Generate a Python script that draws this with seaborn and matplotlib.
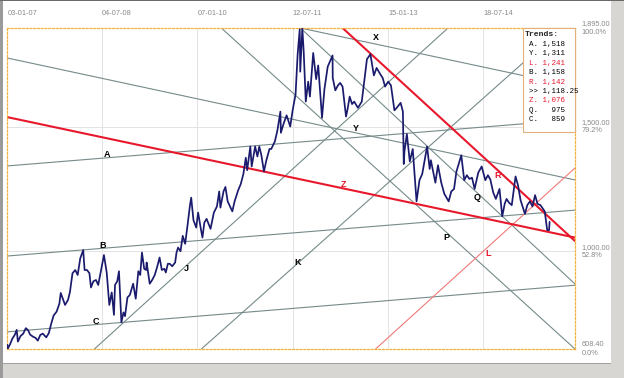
import matplotlib
matplotlib.use("Agg")
import matplotlib.pyplot as plt
import matplotlib.dates as mdates
from matplotlib.patches import Rectangle
import seaborn as sns
import pandas as pd

# price series
price_dates = [
    "2007-01-03", "2007-01-05", "2007-01-19", "2007-02-01", "2007-02-15", "2007-02-26",
    "2007-03-05", "2007-03-20", "2007-04-05", "2007-04-20", "2007-05-03", "2007-05-15",
    "2007-05-31", "2007-06-15", "2007-06-28", "2007-07-13", "2007-07-27", "2007-08-16",
    "2007-08-31", "2007-09-14", "2007-09-28", "2007-10-15", "2007-10-31", "2007-11-08",
    "2007-11-20", "2007-12-03", "2007-12-20", "2007-12-31",
    "2008-01-15", "2008-01-31", "2008-02-14", "2008-02-29", "2008-03-17", "2008-03-25",
    "2008-04-08", "2008-04-22", "2008-05-01", "2008-05-15", "2008-05-30", "2008-06-12",
    "2008-06-30", "2008-07-15", "2008-07-31", "2008-08-15", "2008-08-29", "2008-09-11",
    "2008-09-17", "2008-09-30", "2008-10-10", "2008-10-24", "2008-11-05", "2008-11-14",
    "2008-11-28", "2008-12-12", "2008-12-31",
    "2009-01-15", "2009-01-30", "2009-02-10", "2009-02-20", "2009-03-05", "2009-03-16",
    "2009-03-19", "2009-04-06", "2009-04-20", "2009-05-05", "2009-05-20", "2009-06-02",
    "2009-06-15", "2009-06-30", "2009-07-08", "2009-07-20", "2009-07-31", "2009-08-14",
    "2009-08-31", "2009-09-08", "2009-09-17", "2009-10-01", "2009-10-14", "2009-10-28",
    "2009-11-10", "2009-11-25", "2009-12-02", "2009-12-15", "2009-12-31",
    "2010-01-11", "2010-01-28", "2010-02-05", "2010-02-16", "2010-03-01", "2010-03-15",
    "2010-03-24", "2010-04-12", "2010-04-30", "2010-05-13", "2010-05-20", "2010-06-07",
    "2010-06-18", "2010-07-01", "2010-07-28", "2010-08-10", "2010-08-31", "2010-09-15",
    "2010-09-30", "2010-10-14", "2010-10-22", "2010-11-09", "2010-11-17", "2010-12-07",
    "2010-12-20", "2010-12-31",
    "2011-01-12", "2011-01-27", "2011-02-10", "2011-02-28", "2011-03-10", "2011-03-31",
    "2011-04-15", "2011-05-02", "2011-05-05", "2011-05-20", "2011-06-07", "2011-06-28",
    "2011-07-12", "2011-07-29", "2011-08-10", "2011-08-22", "2011-08-25", "2011-09-06",
    "2011-09-14", "2011-09-26", "2011-10-10", "2011-10-20", "2011-11-08", "2011-11-25",
    "2011-12-07", "2011-12-29",
    "2012-01-12", "2012-01-31", "2012-02-28", "2012-02-29", "2012-03-15", "2012-03-30",
    "2012-04-12", "2012-04-26", "2012-05-16", "2012-05-25", "2012-06-06", "2012-06-20",
    "2012-07-02", "2012-07-24", "2012-08-15", "2012-08-31", "2012-09-14", "2012-10-04",
    "2012-10-24", "2012-11-09", "2012-11-30", "2012-12-14", "2012-12-28",
    "2013-01-15", "2013-01-31", "2013-02-20", "2013-03-05", "2013-03-28", "2013-04-10",
    "2013-04-15", "2013-04-19", "2013-05-03", "2013-05-20", "2013-06-06", "2013-06-28",
    "2013-07-15", "2013-07-31", "2013-08-28", "2013-09-12", "2013-09-19", "2013-10-15",
    "2013-10-30", "2013-11-18", "2013-12-06", "2013-12-31",
    "2014-01-15", "2014-01-31", "2014-02-14", "2014-03-14", "2014-03-31", "2014-04-15",
    "2014-04-30", "2014-05-15", "2014-05-30", "2014-06-20", "2014-07-10", "2014-07-31",
    "2014-08-15", "2014-08-29", "2014-09-15", "2014-09-30", "2014-10-21", "2014-11-06",
    "2014-11-20", "2014-12-01", "2014-12-15", "2014-12-31",
    "2015-01-22", "2015-02-05", "2015-02-20", "2015-03-17", "2015-03-31", "2015-04-15",
    "2015-04-30", "2015-05-15", "2015-05-29", "2015-06-15", "2015-06-30", "2015-07-10",
    "2015-07-24", "2015-08-04", "2015-08-07",
]
price_values = [
    625, 609, 628, 650, 665, 685,
    638, 660, 670, 692, 684, 666,
    658, 653, 642, 665, 670, 655,
    672, 710, 743, 758, 790, 833,
    810, 785, 805, 836,
    912, 925, 905, 972, 1005, 925,
    925, 912, 855, 880, 885, 865,
    930, 985, 915, 785, 835, 745,
    865, 880, 920, 715, 755, 740,
    815, 825, 870,
    810, 920, 905, 995, 930, 925,
    955, 870, 885, 905, 940, 975,
    925, 930, 915, 950, 950, 940,
    955, 995, 1015, 1000, 1062, 1030,
    1100, 1185, 1215, 1125, 1095,
    1155, 1085, 1055, 1115, 1130, 1105,
    1090, 1155, 1180, 1240, 1175, 1240,
    1258, 1200, 1160, 1200, 1245, 1270,
    1310, 1375, 1325, 1420, 1340, 1420,
    1380, 1420,
    1385, 1320, 1365, 1410, 1410, 1440,
    1485, 1560, 1475, 1510, 1545, 1500,
    1565, 1630, 1790, 1890, 1720, 1895,
    1800, 1600, 1680, 1620, 1795, 1690,
    1745, 1535,
    1650, 1740, 1785, 1695, 1645, 1665,
    1675, 1660, 1540, 1570, 1620, 1590,
    1600, 1575, 1600, 1690, 1770, 1790,
    1705, 1735, 1710, 1695, 1660,
    1680, 1665, 1565, 1575, 1595, 1560,
    1350, 1400, 1470, 1360, 1410, 1200,
    1285, 1310, 1420, 1330, 1365, 1275,
    1345, 1275, 1230, 1200,
    1240, 1250, 1320, 1385, 1285, 1305,
    1290, 1295, 1250, 1315, 1340, 1285,
    1305, 1288, 1235, 1210, 1250, 1140,
    1190, 1210, 1195, 1185,
    1300, 1265, 1205, 1150, 1185, 1200,
    1180, 1225, 1190, 1185, 1170, 1160,
    1085, 1085, 1118.25,
]

# trend lines: two anchor points each
gray_names = ["A", "Y", "B", "C", "X", "P", "Q", "J", "K"]
gray_start_dates = ["2007-01-01", "2007-01-01", "2007-01-01", "2007-01-01", "2011-08-26",
                    "2010-06-07", "2011-08-26", "2008-05-21", "2010-01-30"]
gray_start_prices = [1342, 1775, 981, 677, 1895, 1887, 1895, 608.4, 608.4]
gray_end_dates = ["2016-01-01", "2016-01-01", "2016-01-01", "2016-01-01", "2016-01-01",
                  "2016-01-01", "2016-01-01", "2013-12-27", "2015-10-19"]
gray_end_prices = [1528, 1286, 1165, 864, 1660, 608.4, 869, 1895, 1895]

red_names = ["Z", "R"]
red_start_dates = ["2007-01-01", "2012-04-26"]
red_start_prices = [1538, 1895]
red_end_dates = ["2016-01-01", "2016-01-01"]
red_end_prices = [1055, 1041]

thin_red_names = ["L"]
thin_red_start_dates = ["2012-11-03"]
thin_red_start_prices = [608.4]
thin_red_end_dates = ["2016-01-01"]
thin_red_end_prices = [1334]

# line labels
label_names = ["A", "B", "C", "J", "K", "X", "Y", "Z", "P", "Q", "R", "L"]
label_dates = ["2008-08-04", "2008-07-06", "2008-05-27", "2009-11-04", "2011-08-09",
               "2012-11-03", "2012-07-10", "2012-05-01", "2013-12-19", "2014-06-16",
               "2014-10-10", "2014-08-19"]
label_prices = [1386, 1025, 717, 933, 957, 1855, 1494, 1266, 1057, 1214, 1302, 993]

# legend box
legend_names = ["A", "Y", "L", "B", "R", ">>", "Z", "Q", "C"]
legend_values = [1518, 1311, 1241, 1158, 1142, 1118.25, 1076, 975, 859]

# axis labels
tick_dates = ["2007-01-03", "2008-07-04", "2010-01-07", "2011-07-12", "2013-01-15", "2014-07-18"]
level_prices = [1895.00, 1500.00, 1000.00, 608.40]
level_pcts = ["100.0%", "79.2%", "52.8%", "0.0%"]

sns.set_style("white")
plt.rcParams["font.family"] = ["Liberation Sans", "DejaVu Sans"]

fig = plt.figure(figsize=(6.24, 3.78), dpi=100)
ax = fig.add_axes([7 / 624, 29 / 378, 568 / 624, 321 / 378])

red_set = set(red_names) | set(thin_red_names)

# grid
for d in tick_dates[1:]:
    ax.axvline(pd.Timestamp(d), color="#e3e3e3", lw=0.7, zorder=0)
for p in [1500, 1000]:
    ax.axhline(p, color="#e3e3e3", lw=0.7, zorder=0)

def draw_lines(sd, sp, ed, ep, color, lw):
    for a, b, c, d in zip(sd, sp, ed, ep):
        ax.axline((mdates.date2num(pd.Timestamp(a)), b),
                  (mdates.date2num(pd.Timestamp(c)), d),
                  color=color, lw=lw, zorder=1)

draw_lines(gray_start_dates, gray_start_prices, gray_end_dates, gray_end_prices, "#768a8a", 0.8)
draw_lines(thin_red_start_dates, thin_red_start_prices, thin_red_end_dates, thin_red_end_prices, "#f07a7a", 0.8)
draw_lines(red_start_dates, red_start_prices, red_end_dates, red_end_prices, "#e8182c", 1.5)

df = pd.DataFrame({"date": pd.to_datetime(price_dates), "price": price_values})
sns.lineplot(data=df, x="date", y="price", ax=ax, color="#1b1b6e", lw=1.25, zorder=3)

for n, d, p in zip(label_names, label_dates, label_prices):
    ax.text(pd.Timestamp(d), p, n, color="#e8182c" if n in red_set else "black",
            fontsize=6.5, fontweight="bold", ha="center", va="center", zorder=4)

ax.set_xlim(pd.Timestamp("2007-01-01"), pd.Timestamp("2016-01-01"))
ax.set_ylim(608.4, 1895)
ax.set_xticks([])
ax.set_yticks([])
ax.set_xlabel("")
ax.set_ylabel("")
for s in ax.spines.values():
    s.set_color("#f2b33d")
    s.set_linestyle((0, (1.5, 1.5)))
    s.set_linewidth(0.9)

# date labels on top
for d in tick_dates:
    ax.text(pd.Timestamp(d), 1.044, pd.Timestamp(d).strftime("%d-%m-%y"),
            transform=ax.get_xaxis_transform(), fontsize=5.3, color="#8a8a8a",
            ha="left", va="center")

# price levels on right
for p, pct in zip(level_prices, level_pcts):
    ax.text(1.012, p, f"{p:,.2f}\n{pct}", transform=ax.get_yaxis_transform(),
            fontsize=5.3, color="#8a8a8a", ha="left", va="center", linespacing=1.3)

# legend box
box_x0 = (523 - 7) / 568
ax.add_patch(Rectangle((box_x0, 1 - 104 / 321), 1 - box_x0, 104 / 321, transform=ax.transAxes,
                       facecolor="white", edgecolor="#e2b07a", lw=0.8, zorder=5, clip_on=False))
ax.text(box_x0 + 2 / 568, 1 - 6 / 321, "Trends:", transform=ax.transAxes,
        family=["Liberation Mono", "DejaVu Sans Mono"], fontsize=5.9, fontweight="bold",
        ha="left", va="center", zorder=6)
for i, (n, v) in enumerate(zip(legend_names, legend_values)):
    if n == ">>":
        s = f">> {v:,.2f}"
    else:
        s = f"{n}. {v:>5,.0f}"
    ax.text(box_x0 + 6 / 568, 1 - (16.5 + 9.4 * i) / 321, s, transform=ax.transAxes,
            family=["Liberation Mono", "DejaVu Sans Mono"], fontsize=5.4,
            color="#e8182c" if n in red_set else "black", ha="left", va="center", zorder=6)

# window frame
fig.patches.append(Rectangle((0, 0), 1, 15 / 378, transform=fig.transFigure,
                             facecolor="#d8d6d2", edgecolor="none", zorder=-1))
fig.patches.append(Rectangle((0, 14.5 / 378), 1, 0.8 / 378, transform=fig.transFigure,
                             facecolor="#a0a0a0", edgecolor="none", zorder=-1))
fig.patches.append(Rectangle((611 / 624, 0), 13 / 624, 1, transform=fig.transFigure,
                             facecolor="#d8d6d2", edgecolor="none", zorder=-1))
fig.patches.append(Rectangle((0, 0), 3 / 624, 1, transform=fig.transFigure,
                             facecolor="#9a9a9a", edgecolor="none", zorder=-1))
fig.patches.append(Rectangle((0, 377 / 378), 1, 1 / 378, transform=fig.transFigure,
                             facecolor="#6a6a6a", edgecolor="none", zorder=-1))

fig.savefig("out.png", dpi=100)
